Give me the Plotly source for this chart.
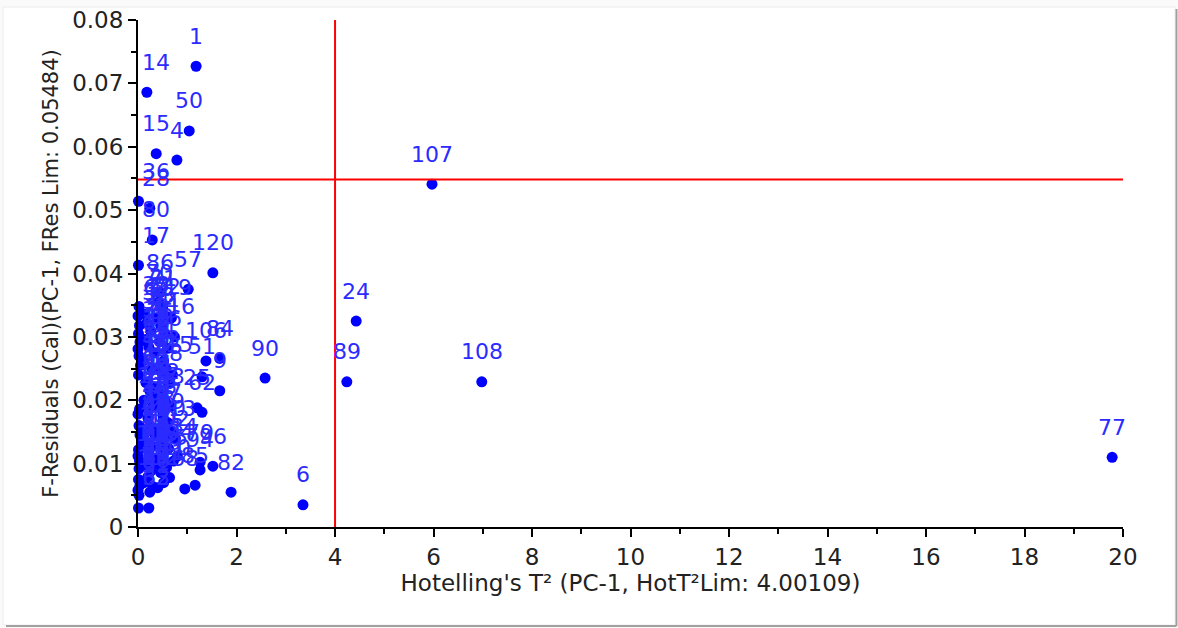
import plotly.graph_objects as go

# PCA influence plot: Hotelling's T² vs F-residuals, one point per calibration sample
sample_ids = [
    1, 14, 50, 15, 4, 107, 36, 28, 80, 17, 120, 57, 86, 24, 89, 108, 90, 77,
    6, 82, 84, 106, 9, 79, 96, 45, 51, 25, 62, 78, 94, 85, 68,
    # samples clustered near the origin
    2, 3, 5, 7, 8, 10, 11, 12, 13, 16, 18, 19, 20, 21, 22, 23, 26, 27, 29, 30, 31, 32,
    33, 34, 35, 37, 38, 39, 40, 41, 42, 43, 44, 46, 47, 48, 49, 52, 53, 54, 55, 56,
    58, 59, 60, 61, 63, 64, 65, 66, 67, 69, 70, 71, 72, 73, 74, 75, 76, 81, 83, 87,
    88, 91, 92, 93, 95, 97, 98, 99, 100, 101, 102, 103, 104, 105, 109, 110, 111,
    112, 113, 114, 115, 116, 117, 118, 119,
]

hotelling_t2 = [
    1.18, 0.18, 1.04, 0.37, 0.79, 5.97, 0.01, 0.24, 0.29, 0.01, 1.52, 1.02, 0.45, 4.43, 4.24, 6.98, 2.58, 19.78,
    3.35, 1.89, 1.66, 1.38, 1.66, 1.26, 1.52, 0.62, 1.30, 1.20, 1.30, 0.51, 1.26, 1.16, 0.95,
    0.02, 0.00, 0.03, 0.01, 0.04, 0.00, 0.02, 0.05, 0.01, 0.03, 0.00, 0.02, 0.04, 0.01, 0.00, 0.03,
    0.02, 0.01, 0.04, 0.00, 0.02, 0.01,
    0.12, 0.18, 0.26, 0.15, 0.22, 0.10, 0.28, 0.16, 0.24, 0.12, 0.30, 0.20, 0.26, 0.14, 0.10,
    0.28, 0.22, 0.32, 0.16, 0.26, 0.20, 0.12, 0.30, 0.24, 0.22, 0.34, 0.36, 0.34, 0.38, 0.33,
    0.42, 0.50, 0.58, 0.46, 0.55, 0.44, 0.60, 0.52, 0.57, 0.48, 0.62, 0.45, 0.56, 0.66, 0.50,
    0.60, 0.46, 0.68, 0.54, 0.44, 0.62, 0.50, 0.72, 0.58, 0.46, 0.64, 0.52, 0.40, 0.76, 0.80,
    0.70, 0.74, 0.40, 0.38, 0.68,
]

f_residuals = [
    0.0727, 0.0686, 0.0625, 0.0589, 0.0579, 0.0541, 0.0514, 0.0503, 0.0453, 0.0413, 0.0401, 0.0375,
    0.0370, 0.0325, 0.0229, 0.0229, 0.0235, 0.0110,
    0.0035, 0.0055, 0.0266, 0.0262, 0.0215, 0.0102, 0.0096, 0.0238, 0.0237, 0.0188, 0.0181, 0.0174,
    0.0090, 0.0066, 0.0060,
    0.0348, 0.0333, 0.0318, 0.0305, 0.0292, 0.0281, 0.0270, 0.0255, 0.0240, 0.0186, 0.0178, 0.0160,
    0.0145, 0.0122, 0.0112, 0.0104, 0.0092, 0.0075, 0.0066, 0.0058, 0.0050, 0.0030,
    0.0336, 0.0322, 0.0309, 0.0296, 0.0284, 0.0262, 0.0250, 0.0228, 0.0215, 0.0200, 0.0190, 0.0172,
    0.0158, 0.0148, 0.0134, 0.0128, 0.0118, 0.0108, 0.0098, 0.0088, 0.0079, 0.0070, 0.0064, 0.0055,
    0.0030, 0.0146, 0.0220, 0.0275, 0.0330, 0.0205,
    0.0355, 0.0345, 0.0332, 0.0318, 0.0305, 0.0292, 0.0282, 0.0262, 0.0250, 0.0244, 0.0226, 0.0210,
    0.0198, 0.0190, 0.0182, 0.0165, 0.0156, 0.0150, 0.0140, 0.0128, 0.0124, 0.0112, 0.0104, 0.0094,
    0.0086, 0.0078, 0.0070, 0.0062, 0.0140, 0.0112, 0.0240, 0.0300, 0.0192, 0.0100, 0.0330,
]

t2_limit = 4.00109
fres_limit = 0.05484

BLUE = "#0000ff"
LABEL_BLUE = "#2b2bff"
FONT = "DejaVu Sans, sans-serif"
TEXT = "#222222"

fig = go.Figure()

fig.add_trace(go.Scatter(
    x=hotelling_t2,
    y=f_residuals,
    mode="markers",
    marker=dict(color=BLUE, size=11, line=dict(width=0)),
    cliponaxis=False,
    hoverinfo="skip",
    showlegend=False,
))

# sample number above each point; labels near the y axis are kept inside the plot
annotations = []
for sid, tx, fy in zip(sample_ids, hotelling_t2, f_residuals):
    annotations.append(dict(
        x=max(tx, 0.36), y=fy, xref="x", yref="y",
        text=str(sid), showarrow=False,
        xanchor="center", yanchor="middle", yshift=30,
        font=dict(family=FONT, size=22, color=LABEL_BLUE),
    ))

shapes = [
    # panel with a soft drop shadow on the right and bottom
    dict(type="rect", xref="paper", yref="paper", x0=-0.1371, x1=1.0528, y0=-0.1933, y1=1.0256,
         line=dict(color="#ececec", width=1), fillcolor="white", layer="below"),
    dict(type="line", xref="paper", yref="paper", x0=-0.1340, x1=1.0543, y0=-0.1953, y1=-0.1953,
         line=dict(color="#a0a0a0", width=2), layer="below"),
    dict(type="line", xref="paper", yref="paper", x0=1.0543, x1=1.0543, y0=-0.1953, y1=1.0217,
         line=dict(color="#a0a0a0", width=2), layer="below"),
    # limit lines
    dict(type="line", xref="x", yref="y", x0=0, x1=20, y0=fres_limit, y1=fres_limit,
         line=dict(color="#ff0000", width=2)),
    dict(type="line", xref="x", yref="y", x0=t2_limit, x1=t2_limit, y0=0, y1=0.08,
         line=dict(color="#ff0000", width=2)),
]

axis_common = dict(
    showline=True, linecolor="black", linewidth=2,
    ticks="outside", ticklen=8, tickwidth=2, tickcolor="black",
    showgrid=False, zeroline=False, automargin=False,
    tickfont=dict(family=FONT, size=23, color=TEXT),
)

fig.update_layout(
    width=1178, height=628,
    margin=dict(l=138, r=55, t=20, b=101),
    paper_bgcolor="#fafafa",
    plot_bgcolor="rgba(0,0,0,0)",
    font=dict(family=FONT, color=TEXT),
    xaxis=dict(
        range=[0, 20], dtick=2, tick0=0,
        minor=dict(dtick=1, ticks="outside", ticklen=5, tickwidth=2, tickcolor="black"),
        title=dict(text="Hotelling's T² (PC-1, HotT²Lim: 4.00109)",
                   font=dict(family=FONT, size=23, color=TEXT), standoff=4),
        **axis_common,
    ),
    yaxis=dict(
        range=[0, 0.08], dtick=0.01, tick0=0,
        minor=dict(dtick=0.005, ticks="outside", ticklen=5, tickwidth=2, tickcolor="black"),
        title=dict(text="F-Residuals (Cal)(PC-1, FRes Lim: 0.05484)",
                   font=dict(family=FONT, size=21, color=TEXT), standoff=8),
        **axis_common,
    ),
    shapes=shapes,
    annotations=annotations,
)

fig.write_html("out.html")
